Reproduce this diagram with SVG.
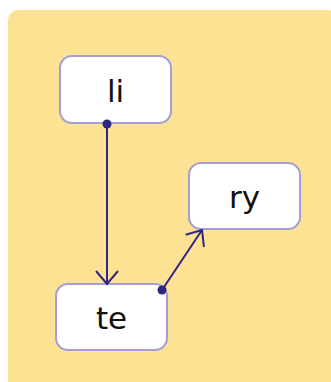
<svg xmlns="http://www.w3.org/2000/svg" width="331" height="382" viewBox="0 0 331 382">
<style>
.node rect{fill:#ffffff;stroke:#a59dd6;stroke-width:2}
.node text{font-family:"DejaVu Sans","Noto Sans",sans-serif;font-size:31px;fill:#111111;text-anchor:middle}
.edge{stroke:#2e2683;stroke-width:2;fill:none}
.dot{fill:#2e2683}
</style>
<defs>
<marker id="arr" viewBox="0 0 24 24" refX="22" refY="12" markerWidth="24" markerHeight="24" markerUnits="userSpaceOnUse" orient="auto">
<path d="M9,1 L22,12 L9,23" fill="none" stroke="#2e2683" stroke-width="2"/>
</marker>
</defs>
<rect x="8" y="10" width="330" height="380" rx="10" fill="#fee293"/>
<g id="li" class="node">
<rect x="60" y="56" width="111" height="67" rx="12"/>
<text x="115.5" y="102">li</text>
</g>
<g id="ry" class="node">
<rect x="189" y="163" width="111" height="66" rx="12"/>
<text x="244.5" y="208">ry</text>
</g>
<g id="te" class="node">
<rect x="56" y="284" width="111" height="66" rx="12"/>
<text x="111.5" y="329">te</text>
</g>
<g id="connectors">
<line class="edge" x1="107" y1="124" x2="107" y2="284" marker-end="url(#arr)"/>
<circle class="dot" cx="107" cy="124" r="4.5"/>
<line class="edge" x1="162" y1="290" x2="202" y2="230" marker-end="url(#arr)"/>
<circle class="dot" cx="162" cy="290" r="4.5"/>
</g>
</svg>
